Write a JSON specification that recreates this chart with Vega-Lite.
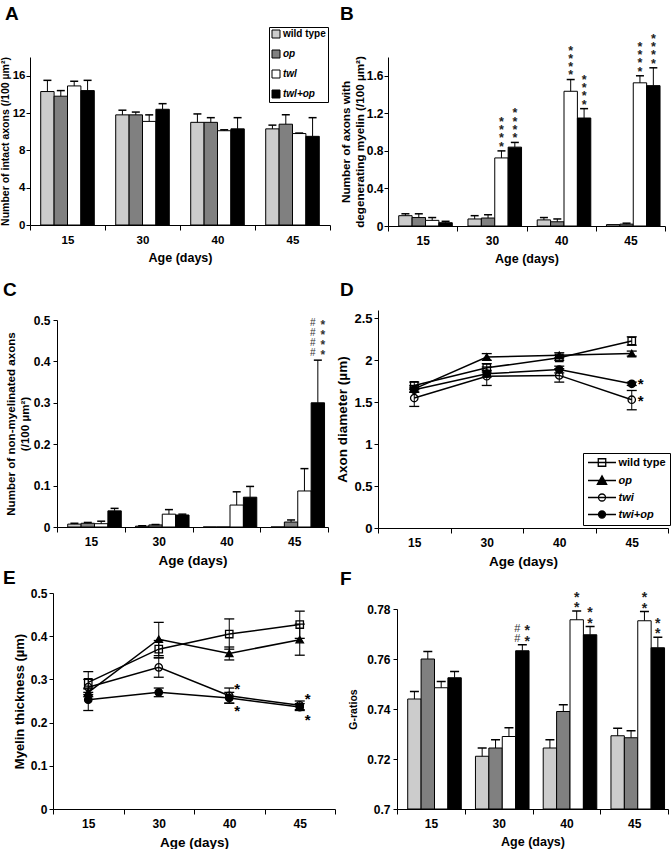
{
"$schema":"https://vega.github.io/schema/vega-lite/v6.json",
"padding":0,
"background":"white",
"columns":4,"spacing":0,"align":"each","bounds":"flush",
"resolve":{"scale":{"fill":"independent","shape":"independent"},"legend":{"fill":"independent","shape":"independent"}},
"config":{
 "view":{"stroke":null},
 "font":"Liberation Sans",
 "axis":{"labelFont":"Liberation Sans","labelFontWeight":"bold","labelFontSize":12,"labelColor":"black","titleFont":"Liberation Sans","titleFontWeight":"bold","titleColor":"black","domainColor":"black","tickColor":"black","grid":false,"labelOverlap":false},
 "axisX":{"labelAngle":0,"tickBand":"extent","tickSize":5,"labelPadding":4,"titlePadding":6,"titleFontSize":12.5},
 "axisY":{"tickSize":4,"labelPadding":1,"titlePadding":3},
 "title":{"font":"Liberation Sans","fontSize":19,"fontWeight":"bold","anchor":"start","frame":"group","color":"black"},
 "legend":{"labelFont":"Liberation Sans","labelFontWeight":"bold","labelColor":"black"},
 "text":{"font":"Liberation Sans"}
},
"datasets":{
 "A":[
  {"age":"15","group":"wild type","value":14.3,"hi":15.5},{"age":"15","group":"op","value":13.8,"hi":14.4},{"age":"15","group":"twl","value":14.9,"hi":15.4},{"age":"15","group":"twl+op","value":14.4,"hi":15.5},
  {"age":"30","group":"wild type","value":11.8,"hi":12.3},{"age":"30","group":"op","value":11.8,"hi":12.1},{"age":"30","group":"twl","value":11.1,"hi":11.8},{"age":"30","group":"twl+op","value":12.4,"hi":13.0},
  {"age":"40","group":"wild type","value":11.0,"hi":11.9},{"age":"40","group":"op","value":11.0,"hi":11.5},{"age":"40","group":"twl","value":10.1,"hi":10.2},{"age":"40","group":"twl+op","value":10.3,"hi":11.5},
  {"age":"45","group":"wild type","value":10.3,"hi":10.7},{"age":"45","group":"op","value":10.8,"hi":11.8},{"age":"45","group":"twl","value":9.8,"hi":9.85},{"age":"45","group":"twl+op","value":9.5,"hi":11.5}],
 "B":[
  {"age":"15","group":"wild type","value":0.11,"hi":0.13},{"age":"15","group":"op","value":0.09,"hi":0.13},{"age":"15","group":"twl","value":0.06,"hi":0.09},{"age":"15","group":"twl+op","value":0.035,"hi":0.05},
  {"age":"30","group":"wild type","value":0.075,"hi":0.11},{"age":"30","group":"op","value":0.085,"hi":0.12},{"age":"30","group":"twl","value":0.725,"hi":0.8},{"age":"30","group":"twl+op","value":0.84,"hi":0.89},
  {"age":"40","group":"wild type","value":0.065,"hi":0.09},{"age":"40","group":"op","value":0.045,"hi":0.075},{"age":"40","group":"twl","value":1.435,"hi":1.56},{"age":"40","group":"twl+op","value":1.15,"hi":1.25},
  {"age":"45","group":"wild type","value":0.015,"hi":0.015},{"age":"45","group":"op","value":0.02,"hi":0.03},{"age":"45","group":"twl","value":1.525,"hi":1.6},{"age":"45","group":"twl+op","value":1.495,"hi":1.685}],
 "Bann":[
  {"age":"30","group":"twl","hi":0.8,"t":"*\n*\n*\n*"},{"age":"30","group":"twl+op","hi":0.89,"t":"*\n*\n*\n*"},
  {"age":"40","group":"twl","hi":1.56,"t":"*\n*\n*\n*"},{"age":"40","group":"twl+op","hi":1.25,"t":"*\n*\n*\n*"},
  {"age":"45","group":"twl","hi":1.6,"t":"*\n*\n*\n*"},{"age":"45","group":"twl+op","hi":1.685,"t":"*\n*\n*\n*"}],
 "C":[
  {"age":"15","group":"wild type","value":0.007,"hi":0.009},{"age":"15","group":"op","value":0.009,"hi":0.011},{"age":"15","group":"twl","value":0.008,"hi":0.014},{"age":"15","group":"twl+op","value":0.039,"hi":0.045},
  {"age":"30","group":"wild type","value":0.002,"hi":0.003},{"age":"30","group":"op","value":0.005,"hi":0.006},{"age":"30","group":"twl","value":0.031,"hi":0.042},{"age":"30","group":"twl+op","value":0.029,"hi":0.031},
  {"age":"40","group":"wild type","value":0,"hi":0},{"age":"40","group":"op","value":0,"hi":0},{"age":"40","group":"twl","value":0.053,"hi":0.085},{"age":"40","group":"twl+op","value":0.072,"hi":0.098},
  {"age":"45","group":"wild type","value":0,"hi":0},{"age":"45","group":"op","value":0.012,"hi":0.017},{"age":"45","group":"twl","value":0.087,"hi":0.141},{"age":"45","group":"twl+op","value":0.3,"hi":0.403}],
 "Cann":[
  {"age":"45","group":"twl+op","hi":0.403,"kind":"hash","t":"#\n#\n#\n#"},{"age":"45","group":"twl+op","hi":0.403,"kind":"star","t":"*\n*\n*\n*"}],
 "F":[
  {"age":"15","group":"wild type","value":0.744,"hi":0.747},{"age":"15","group":"op","value":0.76,"hi":0.763},{"age":"15","group":"twl","value":0.7485,"hi":0.751},{"age":"15","group":"twl+op","value":0.7525,"hi":0.755},
  {"age":"30","group":"wild type","value":0.7211,"hi":0.7244},{"age":"30","group":"op","value":0.7244,"hi":0.7277},{"age":"30","group":"twl","value":0.729,"hi":0.7325},{"age":"30","group":"twl+op","value":0.7633,"hi":0.7657},
  {"age":"40","group":"wild type","value":0.7244,"hi":0.7277},{"age":"40","group":"op","value":0.739,"hi":0.7417},{"age":"40","group":"twl","value":0.7757,"hi":0.7792},{"age":"40","group":"twl+op","value":0.7697,"hi":0.773},
  {"age":"45","group":"wild type","value":0.7293,"hi":0.7323},{"age":"45","group":"op","value":0.7285,"hi":0.7313},{"age":"45","group":"twl","value":0.7753,"hi":0.779},{"age":"45","group":"twl+op","value":0.7645,"hi":0.7687}],
 "Fann":[
  {"age":"30","group":"twl+op","hi":0.7657,"kind":"hash","t":"#\n#"},{"age":"30","group":"twl+op","hi":0.7657,"kind":"star","t":"*\n*"},
  {"age":"40","group":"twl","hi":0.7792,"kind":"solo","t":"*\n*"},{"age":"40","group":"twl+op","hi":0.773,"kind":"solo","t":"*\n*"},
  {"age":"45","group":"twl","hi":0.779,"kind":"solo","t":"*\n*"},{"age":"45","group":"twl+op","hi":0.7687,"kind":"solo","t":"*\n*"}],
 "D":[
  {"age":"15","group":"wild type","value":1.7,"lo":1.66,"hi":1.74},{"age":"30","group":"wild type","value":1.91,"lo":1.86,"hi":1.96},{"age":"40","group":"wild type","value":2.03,"lo":2.0,"hi":2.06},{"age":"45","group":"wild type","value":2.23,"lo":2.18,"hi":2.28},
  {"age":"15","group":"op","value":1.66,"lo":1.62,"hi":1.7},{"age":"30","group":"op","value":2.04,"lo":2.0,"hi":2.08},{"age":"40","group":"op","value":2.06,"lo":2.03,"hi":2.09},{"age":"45","group":"op","value":2.08,"lo":2.05,"hi":2.11},
  {"age":"15","group":"twi","value":1.55,"lo":1.45,"hi":1.65},{"age":"30","group":"twi","value":1.81,"lo":1.7,"hi":1.92},{"age":"40","group":"twi","value":1.82,"lo":1.74,"hi":1.9},{"age":"45","group":"twi","value":1.53,"lo":1.41,"hi":1.64},
  {"age":"15","group":"twi+op","value":1.65,"lo":1.62,"hi":1.68},{"age":"30","group":"twi+op","value":1.84,"lo":1.8,"hi":1.88},{"age":"40","group":"twi+op","value":1.89,"lo":1.85,"hi":1.93},{"age":"45","group":"twi+op","value":1.72,"lo":1.7,"hi":1.74}],
 "Dann":[{"age":"45","pos":1.765,"t":"*"},{"age":"45","pos":1.56,"t":"*"}],
 "E":[
  {"age":"15","group":"wild type","value":0.293,"lo":0.27,"hi":0.318},{"age":"30","group":"wild type","value":0.37,"lo":0.35,"hi":0.39},{"age":"40","group":"wild type","value":0.405,"lo":0.37,"hi":0.44},{"age":"45","group":"wild type","value":0.427,"lo":0.395,"hi":0.458},
  {"age":"15","group":"op","value":0.27,"lo":0.26,"hi":0.28},{"age":"30","group":"op","value":0.393,"lo":0.355,"hi":0.432},{"age":"40","group":"op","value":0.36,"lo":0.345,"hi":0.375},{"age":"45","group":"op","value":0.392,"lo":0.356,"hi":0.428},
  {"age":"15","group":"twi","value":0.282,"lo":0.265,"hi":0.3},{"age":"30","group":"twi","value":0.328,"lo":0.305,"hi":0.35},{"age":"40","group":"twi","value":0.262,"lo":0.245,"hi":0.28},{"age":"45","group":"twi","value":0.24,"lo":0.23,"hi":0.25},
  {"age":"15","group":"twi+op","value":0.253,"lo":0.228,"hi":0.278},{"age":"30","group":"twi+op","value":0.27,"lo":0.26,"hi":0.28},{"age":"40","group":"twi+op","value":0.257,"lo":0.245,"hi":0.27},{"age":"45","group":"twi+op","value":0.236,"lo":0.228,"hi":0.244}],
 "Eann":[{"age":"40","pos":0.287,"t":"*"},{"age":"40","pos":0.237,"t":"*"},{"age":"45","pos":0.264,"t":"*"},{"age":"45","pos":0.215,"t":"*"}]
},
"concat":[
 {"width":30,"height":57,"data":{"values":[{}]},"mark":{"type":"point","opacity":0}},
 {"width":1,"height":57,"data":{"values":[{}]},"mark":{"type":"point","opacity":0}},
 {"width":43,"height":57,"data":{"values":[{}]},"mark":{"type":"point","opacity":0}},
 {"width":1,"height":57,"data":{"values":[{}]},"mark":{"type":"point","opacity":0}},

 {"width":30,"height":1,"data":{"values":[{}]},"mark":{"type":"point","opacity":0}},
 {"width":300,"height":168,
  "title":{"text":"A","dx":-25,"offset":3},
  "data":{"name":"A"},
  "encoding":{
   "x":{"field":"age","type":"ordinal","scale":{"domain":["15","30","40","45"],"paddingInner":0,"paddingOuter":0},"axis":{"title":"Age (days)","labelFontSize":11.5}},
   "xOffset":{"field":"group","type":"nominal","scale":{"domain":["wild type","op","twl","twl+op"],"paddingInner":0,"paddingOuter":0.8}}
  },
  "layer":[
   {"mark":{"type":"bar","stroke":"black","strokeWidth":1},
    "encoding":{
     "y":{"field":"value","type":"quantitative","scale":{"domain":[0,18]},"axis":{"title":"Number of intact axons (/100 µm²)","values":[0,2,4,6,8,10,12,14,16,18],"titleFontSize":10.5,"labelFontSize":11.5,"titlePadding":2}},
     "fill":{"field":"group","type":"nominal","scale":{"domain":["wild type","op","twl","twl+op"],"range":["#cccccc","#808080","#ffffff","#000000"]},
      "legend":{"title":null,"orient":"none","legendX":239,"legendY":-30,"strokeColor":"black","padding":2,"symbolType":"square","symbolSize":64,"symbolStrokeColor":"black","symbolStrokeWidth":1,"rowPadding":8,"labelOffset":2,"labelFontSize":10,
       "encode":{"labels":{"update":{"fontStyle":{"signal":"datum.label === 'wild type' ? 'normal' : 'italic'"}}}}}}}},
   {"transform":[{"filter":"datum.hi > datum.value"}],"mark":{"type":"rule","color":"black","strokeWidth":1},"encoding":{"y":{"field":"value","type":"quantitative"},"y2":{"field":"hi"}}},
   {"transform":[{"filter":"datum.hi > datum.value"}],"mark":{"type":"tick","color":"black","opacity":1,"size":8,"thickness":1.5},"encoding":{"y":{"field":"hi","type":"quantitative"}}}
  ]},
 {"width":43,"height":1,"data":{"values":[{}]},"mark":{"type":"point","opacity":0}},
 {"width":287,"height":169,
  "title":{"text":"B","dx":-38,"offset":9},
  "data":{"name":"B"},
  "encoding":{
   "x":{"field":"age","type":"ordinal","scale":{"domain":["15","30","40","45"],"range":[10,287],"paddingInner":0,"paddingOuter":0},"axis":{"title":"Age (days)"}},
   "xOffset":{"field":"group","type":"nominal","scale":{"domain":["wild type","op","twl","twl+op"],"paddingInner":0,"paddingOuter":0.4}}
  },
  "layer":[
   {"mark":{"type":"bar","stroke":"black","strokeWidth":1},
    "encoding":{
     "y":{"field":"value","type":"quantitative","scale":{"domain":[0,1.8]},"axis":{"title":["Number of axons with","degenerating myelin (/100 µm²)"],"values":[0,0.2,0.4,0.6,0.8,1,1.2,1.4,1.6,1.8],"format":"~g","titleFontSize":11.7,"titlePadding":1,"offset":-10}},
     "fill":{"field":"group","type":"nominal","scale":{"domain":["wild type","op","twl","twl+op"],"range":["#cccccc","#808080","#ffffff","#000000"]},"legend":null}}},
   {"transform":[{"filter":"datum.hi > datum.value"}],"mark":{"type":"rule","color":"black","strokeWidth":1},"encoding":{"y":{"field":"value","type":"quantitative"},"y2":{"field":"hi"}}},
   {"transform":[{"filter":"datum.hi > datum.value"}],"mark":{"type":"tick","color":"black","opacity":1,"size":8,"thickness":1.5},"encoding":{"y":{"field":"hi","type":"quantitative"}}},
   {"data":{"name":"Bann"},"mark":{"type":"text","baseline":"bottom","lineBreak":"\n","lineHeight":8.3,"fontSize":12.5,"fontWeight":"bold","dy":-22,"color":"#222222"},"encoding":{"y":{"field":"hi","type":"quantitative"},"text":{"field":"t"}}}
  ]},

 {"width":30,"height":84,"data":{"values":[{}]},"mark":{"type":"point","opacity":0}},
 {"width":1,"height":1,"data":{"values":[{}]},"mark":{"type":"point","opacity":0}},
 {"width":43,"height":1,"data":{"values":[{}]},"mark":{"type":"point","opacity":0}},
 {"width":1,"height":1,"data":{"values":[{}]},"mark":{"type":"point","opacity":0}},

 {"width":30,"height":1,"data":{"values":[{}]},"mark":{"type":"point","opacity":0}},
 {"width":298,"height":217,
  "title":{"text":"C","dx":-27,"offset":10},
  "data":{"name":"C"},
  "encoding":{
   "x":{"field":"age","type":"ordinal","scale":{"domain":["15","30","40","45"],"range":[27,298],"paddingInner":0,"paddingOuter":0},"axis":{"title":"Age (days)","titleFontSize":13.5}},
   "xOffset":{"field":"group","type":"nominal","scale":{"domain":["wild type","op","twl","twl+op"],"paddingInner":0,"paddingOuter":0.4}}
  },
  "layer":[
   {"mark":{"type":"bar","stroke":"black","strokeWidth":1},
    "encoding":{
     "y":{"field":"value","type":"quantitative","scale":{"domain":[0,0.5],"range":[217,10]},"axis":{"title":["Number of non-myelinated axons","(/100 µm²)"],"values":[0,0.1,0.2,0.3,0.4,0.5],"format":"~g","titleFontSize":11.6,"titlePadding":3,"labelPadding":3,"offset":-27}},
     "fill":{"field":"group","type":"nominal","scale":{"domain":["wild type","op","twl","twl+op"],"range":["#cccccc","#808080","#ffffff","#000000"]},"legend":null}}},
   {"transform":[{"filter":"datum.hi > datum.value"}],"mark":{"type":"rule","color":"black","strokeWidth":1},"encoding":{"y":{"field":"value","type":"quantitative"},"y2":{"field":"hi"}}},
   {"transform":[{"filter":"datum.hi > datum.value"}],"mark":{"type":"tick","color":"black","opacity":1,"size":8,"thickness":1.5},"encoding":{"y":{"field":"hi","type":"quantitative"}}},
   {"data":{"name":"Cann"},"transform":[{"filter":"datum.kind === 'hash'"}],"mark":{"type":"text","baseline":"bottom","lineBreak":"\n","lineHeight":10,"fontSize":10,"dx":-5,"dy":-32,"color":"#333333"},"encoding":{"y":{"field":"hi","type":"quantitative"},"text":{"field":"t"}}},
   {"data":{"name":"Cann"},"transform":[{"filter":"datum.kind === 'star'"}],"mark":{"type":"text","baseline":"bottom","lineBreak":"\n","lineHeight":10,"fontSize":12,"fontWeight":"bold","dx":5,"dy":-28,"color":"#333333"},"encoding":{"y":{"field":"hi","type":"quantitative"},"text":{"field":"t"}}}
  ]},
 {"width":43,"height":1,"data":{"values":[{}]},"mark":{"type":"point","opacity":0}},
 {"width":290,"height":218,
  "title":{"text":"D","dx":-38,"offset":10},
  "data":{"name":"D"},
  "encoding":{
   "x":{"field":"age","type":"ordinal","scale":{"domain":["15","30","40","45"],"paddingInner":0,"paddingOuter":0},"axis":{"title":"Age (days)","titleFontSize":13.5}}
  },
  "layer":[
   {"mark":{"type":"rule","color":"black","strokeWidth":1},"encoding":{"y":{"field":"lo","type":"quantitative","scale":{"domain":[0,2.5]},"axis":{"title":"Axon diameter (µm)","values":[0,0.5,1,1.5,2,2.5],"format":"~g","titleFontSize":13.5,"labelFontSize":13,"titlePadding":4,"labelPadding":2}},"y2":{"field":"hi"}}},
   {"mark":{"type":"tick","color":"black","opacity":1,"size":10,"thickness":1.3},"encoding":{"y":{"field":"lo","type":"quantitative"}}},
   {"mark":{"type":"tick","color":"black","opacity":1,"size":10,"thickness":1.3},"encoding":{"y":{"field":"hi","type":"quantitative"}}},
   {"mark":{"type":"line","color":"black","strokeWidth":1.5},"encoding":{"y":{"field":"value","type":"quantitative"},"detail":{"field":"group"}}},
   {"mark":{"type":"point","filled":true,"stroke":"black","strokeWidth":1.3,"opacity":1,"size":55},
    "encoding":{"y":{"field":"value","type":"quantitative"},
     "shape":{"field":"group","type":"nominal","scale":{"domain":["wild type","op","twi","twi+op"],"range":["square","triangle-up","circle","circle"]},"legend":null},
     "fill":{"field":"group","type":"nominal","scale":{"domain":["wild type","op","twi","twi+op"],"range":["transparent","black","transparent","black"]},"legend":null}}},
   {"mark":{"type":"point","filled":true,"stroke":"black","opacity":0,"size":87},
    "encoding":{"y":{"field":"value","type":"quantitative"},
     "shape":{"field":"group","type":"nominal","scale":{"domain":["wild type","op","twi","twi+op"],"range":["M-3,0H3M-0.8,-0.8H0.8V0.8H-0.8Z","M-3,0H3M0,-1L1,0.8H-1Z","M-3,0H3M0.75,0A0.75,0.75,0,1,1,-0.75,0A0.75,0.75,0,1,1,0.75,0Z","M-3,0H3M0.75,0A0.75,0.75,0,1,1,-0.75,0A0.75,0.75,0,1,1,0.75,0Z"]},
      "legend":{"title":null,"orient":"none","legendX":205,"legendY":143,"strokeColor":"black","padding":4,"symbolOffset":9.5,"labelOffset":11,"symbolSize":87,"symbolStrokeColor":"black","symbolStrokeWidth":1.3,"symbolOpacity":1,"rowPadding":4,"labelFontSize":11,
       "encode":{"labels":{"update":{"fontStyle":{"signal":"datum.label === 'wild type' ? 'normal' : 'italic'"}}}}}},
     "fill":{"field":"group","type":"nominal","scale":{"domain":["wild type","op","twi","twi+op"],"range":["transparent","black","transparent","black"]},
      "legend":{"title":null,"orient":"none","legendX":205,"legendY":143,"strokeColor":"black","padding":4,"symbolOffset":9.5,"labelOffset":11,"symbolSize":87,"symbolStrokeColor":"black","symbolStrokeWidth":1.3,"symbolOpacity":1,"rowPadding":4,"labelFontSize":11,
       "encode":{"labels":{"update":{"fontStyle":{"signal":"datum.label === 'wild type' ? 'normal' : 'italic'"}}}}}}}},
   {"data":{"name":"Dann"},"mark":{"type":"text","dx":9,"dy":4,"fontSize":15,"fontWeight":"bold","color":"black"},"encoding":{"y":{"field":"pos","type":"quantitative"},"text":{"field":"t"}}}
  ],
  "resolve":{"scale":{"shape":"independent","fill":"independent"}}},

 {"width":30,"height":65,"data":{"values":[{}]},"mark":{"type":"point","opacity":0}},
 {"width":1,"height":1,"data":{"values":[{}]},"mark":{"type":"point","opacity":0}},
 {"width":43,"height":1,"data":{"values":[{}]},"mark":{"type":"point","opacity":0}},
 {"width":1,"height":1,"data":{"values":[{}]},"mark":{"type":"point","opacity":0}},

 {"width":30,"height":1,"data":{"values":[{}]},"mark":{"type":"point","opacity":0}},
 {"width":305,"height":216,
  "title":{"text":"E","dx":-27,"offset":0,"dy":1},
  "data":{"name":"E"},
  "encoding":{
   "x":{"field":"age","type":"ordinal","scale":{"domain":["15","30","40","45"],"range":[23,305],"paddingInner":0,"paddingOuter":0},"axis":{"title":"Age (days)","titleFontSize":13.5}}
  },
  "layer":[
   {"mark":{"type":"rule","color":"black","strokeWidth":1},"encoding":{"y":{"field":"lo","type":"quantitative","scale":{"domain":[0,0.5]},"axis":{"title":"Myelin thickness (µm)","values":[0,0.1,0.2,0.3,0.4,0.5],"format":"~g","titleFontSize":13,"titlePadding":4,"labelPadding":2,"offset":-23}},"y2":{"field":"hi"}}},
   {"mark":{"type":"tick","color":"black","opacity":1,"size":10,"thickness":1.3},"encoding":{"y":{"field":"lo","type":"quantitative"}}},
   {"mark":{"type":"tick","color":"black","opacity":1,"size":10,"thickness":1.3},"encoding":{"y":{"field":"hi","type":"quantitative"}}},
   {"mark":{"type":"line","color":"black","strokeWidth":1.5},"encoding":{"y":{"field":"value","type":"quantitative"},"detail":{"field":"group"}}},
   {"mark":{"type":"point","filled":true,"stroke":"black","strokeWidth":1.3,"opacity":1,"size":55},
    "encoding":{"y":{"field":"value","type":"quantitative"},
     "shape":{"field":"group","type":"nominal","scale":{"domain":["wild type","op","twi","twi+op"],"range":["square","triangle-up","circle","circle"]},"legend":null},
     "fill":{"field":"group","type":"nominal","scale":{"domain":["wild type","op","twi","twi+op"],"range":["transparent","black","transparent","black"]},"legend":null}}},
   {"data":{"name":"Eann"},"mark":{"type":"text","dx":8,"dy":4,"fontSize":15,"fontWeight":"bold","color":"black"},"encoding":{"y":{"field":"pos","type":"quantitative"},"text":{"field":"t"}}}
  ]},
 {"width":43,"height":1,"data":{"values":[{}]},"mark":{"type":"point","opacity":0}},
 {"width":290,"height":216,
  "title":{"text":"F","dx":-38,"offset":2},
  "data":{"name":"F"},
  "encoding":{
   "x":{"field":"age","type":"ordinal","scale":{"domain":["15","30","40","45"],"range":[19,290],"paddingInner":0,"paddingOuter":0},"axis":{"title":"Age (days)"}},
   "xOffset":{"field":"group","type":"nominal","scale":{"domain":["wild type","op","twl","twl+op"],"paddingInner":0,"paddingOuter":0.67}}
  },
  "layer":[
   {"mark":{"type":"bar","stroke":"black","strokeWidth":1},
    "encoding":{
     "y":{"field":"value","type":"quantitative","scale":{"domain":[0.7,0.78],"zero":false,"range":[216,16]},"axis":{"title":"G-ratios","values":[0.7,0.72,0.74,0.76,0.78],"format":"~g","titleFontSize":10.5,"titlePadding":8,"labelPadding":3,"offset":-19}},
     "y2":{"datum":0.7},
     "fill":{"field":"group","type":"nominal","scale":{"domain":["wild type","op","twl","twl+op"],"range":["#cccccc","#808080","#ffffff","#000000"]},"legend":null}}},
   {"mark":{"type":"rule","color":"black","strokeWidth":1},"encoding":{"y":{"field":"value","type":"quantitative"},"y2":{"field":"hi"}}},
   {"mark":{"type":"tick","color":"black","opacity":1,"size":9,"thickness":1.5},"encoding":{"y":{"field":"hi","type":"quantitative"}}},
   {"data":{"name":"Fann"},"transform":[{"filter":"datum.kind === 'hash'"}],"mark":{"type":"text","baseline":"bottom","lineBreak":"\n","lineHeight":10.5,"fontSize":11,"dx":-5,"dy":-11,"color":"#333333"},"encoding":{"y":{"field":"hi","type":"quantitative"},"text":{"field":"t"}}},
   {"data":{"name":"Fann"},"transform":[{"filter":"datum.kind === 'star'"}],"mark":{"type":"text","baseline":"bottom","lineBreak":"\n","lineHeight":10.5,"fontSize":14,"fontWeight":"bold","dx":5,"dy":-6.5,"color":"#222222"},"encoding":{"y":{"field":"hi","type":"quantitative"},"text":{"field":"t"}}},
   {"data":{"name":"Fann"},"transform":[{"filter":"datum.kind === 'solo'"}],"mark":{"type":"text","baseline":"bottom","lineBreak":"\n","lineHeight":10.5,"fontSize":14,"fontWeight":"bold","dy":-6.5,"color":"#222222"},"encoding":{"y":{"field":"hi","type":"quantitative"},"text":{"field":"t"}}}
  ]}
]
}
